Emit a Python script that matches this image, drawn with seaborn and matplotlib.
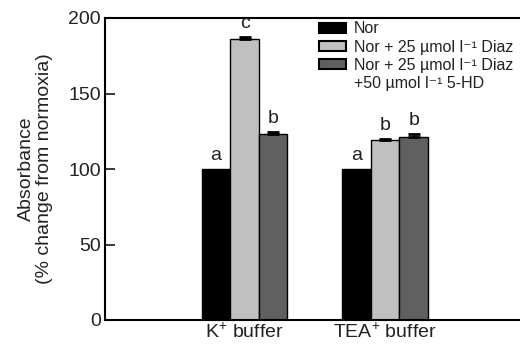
import matplotlib
matplotlib.use("Agg")
import matplotlib.pyplot as plt
from matplotlib.patches import Patch
import seaborn as sns
import pandas as pd
import numpy as np

buffers = ["K$^{+}$ buffer", "TEA$^{+}$ buffer"]
treatments = ["Nor",
              "Nor + 25 µmol l⁻¹ Diaz",
              "Nor + 25 µmol l⁻¹ Diaz"]
treatment_extra = "+50 µmol l⁻¹ 5-HD"
k_values = [100, 186, 123]
tea_values = [100, 119, 121.5]
k_err = [0, 1.5, 1.5]
tea_err = [0, 1.0, 2.0]
k_letters = ["a", "c", "b"]
tea_letters = ["a", "b", "b"]
yticks = [0, 50, 100, 150, 200]
colors = ["#000000", "#c0c0c0", "#606060"]

sns.set_theme(style="white")
plt.rcParams['font.family'] = ['Liberation Sans', 'DejaVu Sans']
plt.rcParams['mathtext.fontset'] = 'custom'
plt.rcParams['mathtext.rm'] = 'Liberation Sans'
plt.rcParams['mathtext.it'] = 'Liberation Sans:italic'
plt.rcParams['mathtext.bf'] = 'Liberation Sans:bold'

hue_ids = ["t1", "t2", "t3"]
rows = []
for b, vals, errs, lets in [(buffers[0], k_values, k_err, k_letters),
                            (buffers[1], tea_values, tea_err, tea_letters)]:
    for h, v, e, l in zip(hue_ids, vals, errs, lets):
        rows.append(dict(buffer=b, treatment=h, value=v, err=e, letter=l))
df = pd.DataFrame(rows)

fig = plt.figure(figsize=(5.2, 3.47), dpi=100)
ax = fig.add_axes([105/520, 27/347, 1 - 105/520, 302/347])

sns.barplot(data=df, x="buffer", y="value", hue="treatment", order=buffers,
            hue_order=hue_ids, palette=colors, width=0.61, errorbar=None,
            edgecolor="black", linewidth=1.0, ax=ax, legend=False)

bars = [p for p in ax.patches if p.get_height() > 0][:6]
i = 0
for h in hue_ids:
    for b in buffers:
        r = df[(df.buffer == b) & (df.treatment == h)].iloc[0]
        p = bars[i]
        xc = p.get_x() + p.get_width() / 2
        if r.err > 0:
            ax.errorbar(xc, r.value, yerr=[[0], [r.err]], fmt="none",
                        ecolor="black", elinewidth=1.2, capsize=4, capthick=2)
        ax.text(xc, r.value + r.err + 3, r.letter, ha="center", va="bottom",
                fontsize=14, color="#222222")
        i += 1

ax.set_xlim(-0.993, 1.96)
ax.set_ylim(0, 200)
ax.set_yticks(yticks)
ax.set_yticklabels([str(v) for v in yticks], fontsize=14, color="#222222")
ax.tick_params(axis="y", direction="in", length=7, width=1.3, left=True, pad=3)
ax.tick_params(axis="x", length=0, labelsize=14, labelcolor="#222222", pad=2)
ax.set_xlabel("")
ax.set_ylabel("Absorbance\n(% change from normoxia)", fontsize=14,
              color="#222222", labelpad=11, linespacing=1.1)
for s in ["left", "bottom", "top"]:
    ax.spines[s].set_linewidth(1.5)
    ax.spines[s].set_color("black")
ax.spines["right"].set_visible(False)

handles = [Patch(facecolor=c, edgecolor="black", linewidth=1.5) for c in colors]
handles.append(Patch(facecolor="none", edgecolor="none", linewidth=0))
labels = treatments + [treatment_extra]
leg = ax.legend(handles, labels, loc="upper left", bbox_to_anchor=(0.5, 1.01),
                frameon=False, fontsize=11.5, handlelength=1.7,
                handleheight=0.6, handletextpad=0.5, labelspacing=0.2,
                borderaxespad=0)
for txt in leg.get_texts():
    txt.set_color("#222222")

fig.savefig("out.png", dpi=100)
